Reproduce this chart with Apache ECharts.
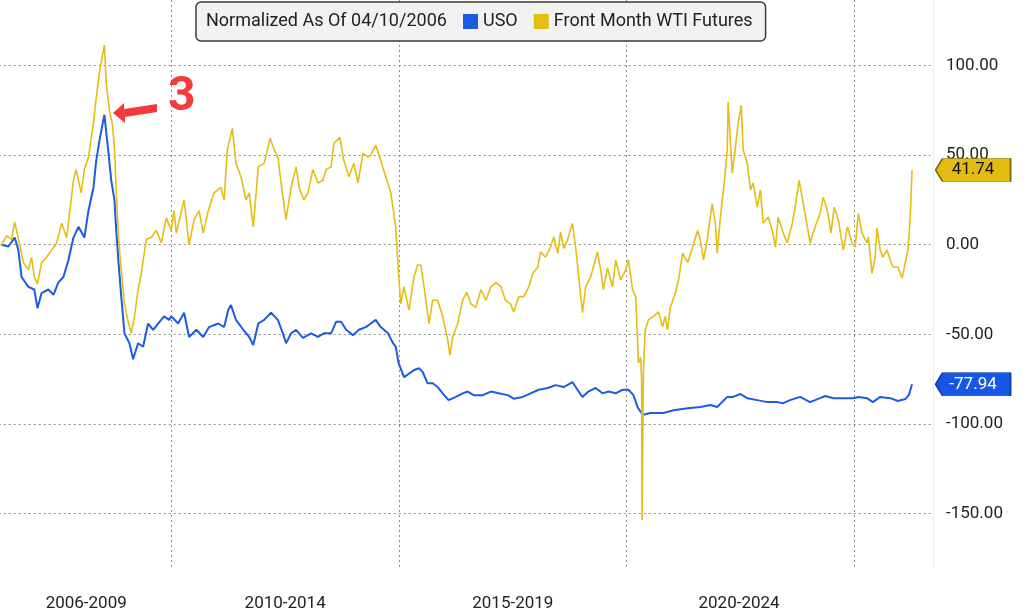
<!DOCTYPE html>
<html>
<head>
<meta charset="utf-8">
<title>USO vs Front Month WTI Futures</title>
<script src="https://cdn.jsdelivr.net/npm/echarts@6/dist/echarts.min.js"></script>
<style>
  html, body { margin: 0; padding: 0; background: #fff; }
  #chart { width: 1028px; height: 615px; }
</style>
</head>
<body>
<div id="chart"></div>
<script>
// normalized % change since 04/10/2006 (x in decimal years)
const wtiYears = [
  2006.27,2006.38,2006.49,2006.56,2006.66,2006.75,2006.86,2006.93,2006.99,2007.06,
  2007.15,2007.26,2007.37,2007.48,2007.59,2007.70,2007.85,2007.91,2008.02,2008.09,
  2008.18,2008.29,2008.35,2008.42,2008.46,2008.53,2008.57,2008.64,2008.70,2008.75,
  2008.79,2008.84,2008.90,2008.97,2009.06,2009.12,2009.19,2009.27,2009.34,2009.45,
  2009.56,2009.67,2009.78,2009.89,2010.00,2010.06,2010.11,2010.28,2010.39,2010.50,
  2010.61,2010.70,2010.81,2010.94,2011.09,2011.16,2011.23,2011.34,2011.42,2011.53,
  2011.64,2011.71,2011.80,2011.91,2012.04,2012.17,2012.26,2012.34,2012.41,2012.52,
  2012.63,2012.74,2012.81,2012.91,2013.00,2013.11,2013.22,2013.33,2013.40,2013.51,
  2013.57,2013.70,2013.79,2013.90,2014.01,2014.10,2014.21,2014.32,2014.38,2014.49,
  2014.60,2014.71,2014.82,2014.93,2014.99,2015.04,2015.11,2015.22,2015.33,2015.41,
  2015.48,2015.55,2015.66,2015.74,2015.85,2015.96,2016.07,2016.12,2016.18,2016.29,
  2016.40,2016.49,2016.58,2016.69,2016.80,2016.91,2017.02,2017.13,2017.24,2017.34,
  2017.45,2017.52,2017.63,2017.74,2017.85,2017.94,2018.05,2018.11,2018.22,2018.33,
  2018.40,2018.49,2018.55,2018.62,2018.70,2018.81,2018.88,2018.95,2019.03,2019.10,
  2019.21,2019.27,2019.36,2019.43,2019.49,2019.58,2019.69,2019.76,2019.87,2019.98,
  2020.04,2020.13,2020.20,2020.24,2020.26,2020.31,2020.33,2020.34,2020.37,2020.41,
  2020.48,2020.59,2020.70,2020.79,2020.85,2020.90,2020.96,2021.07,2021.14,2021.23,
  2021.34,2021.45,2021.56,2021.62,2021.69,2021.77,2021.88,2021.95,2021.99,2022.06,
  2022.15,2022.21,2022.23,2022.32,2022.39,2022.45,2022.52,2022.56,2022.65,2022.72,
  2022.78,2022.87,2022.94,2023.00,2023.11,2023.20,2023.27,2023.33,2023.44,2023.53,
  2023.64,2023.70,2023.79,2023.88,2023.97,2024.03,2024.14,2024.25,2024.32,2024.41,
  2024.49,2024.56,2024.65,2024.76,2024.85,2024.95,2025.02,2025.09,2025.17,2025.28,
  2025.31,2025.39,2025.46,2025.50,2025.57,2025.63,2025.72,2025.79,2025.85,2025.96,
  2026.05,2026.12,2026.18,2026.23,2026.27
];
const wtiValues = [
  0,5,3,12.6,1,-10,-14,-7,-18,-22,
  -10,-7,-3,1,12,4,36,42,29,42,
  49,68,82,96,102,111.5,90,75,68,55,
  30,4,-14,-33,-44,-49.5,-40,-25,-16,3,
  4,8,1,15,8,19,6.5,25,0,14,
  19,6.5,19,29,32,25,53,65,45.6,38,
  25,29,10,43.5,45.6,59.5,53,49,34.5,14,
  32,43.5,32,25,29,42,34.5,36,42,43.5,
  56.6,60,47,38,45.6,34.5,51,49,50,55.6,
  47,38,29,10,-16,-33,-23.5,-36.5,-18,-11.3,
  -11.3,-23.5,-44,-31,-31,-40,-53,-61.6,-51.5,-44,
  -31,-26.5,-33,-35,-25,-31,-23.5,-21,-23.5,-31,
  -33,-37.5,-29,-29,-23.5,-16,-12.4,-4,-7,-1.3,
  4.3,-4.7,7,-2,2.6,12,-1.3,-18,-38,-23.5,
  -18,-12.4,-4,-14,-25,-13,-23.5,-8.5,-19.7,-14,
  -8.5,-25,-29,-53,-66,-63,-76,-153.8,-70,-47.5,
  -42,-40,-37.5,-46,-40,-47.5,-35,-27,-19.7,-4.7,
  -10,-1.3,8,2.6,-8.5,2.6,23,12,-4.7,15.5,
  36,53,79.7,40,54.6,68,78,53,45.6,30.6,
  34.5,21,30.6,12,15.5,8,-1.3,15.5,6.5,1,
  12,21,36,23,10,1,10,17.5,26.6,19,
  6.5,21,14,-3,10,1,-1.3,17.5,6.5,1,
  4.3,-16,-7,9.3,-3,-7,-3,-8.5,-12.4,-12.4,
  -18.6,-10,-3,15.5,41.74
];
const usoYears = [
  2006.27,2006.42,2006.56,2006.64,2006.71,2006.86,2006.99,2007.06,2007.15,2007.30,
  2007.41,2007.52,2007.63,2007.74,2007.85,2007.96,2008.09,2008.18,2008.29,2008.35,
  2008.42,2008.51,2008.53,2008.62,2008.68,2008.75,2008.79,2008.84,2008.90,2008.97,
  2009.08,2009.16,2009.27,2009.38,2009.49,2009.60,2009.71,2009.84,2009.95,2010.00,
  2010.15,2010.28,2010.39,2010.55,2010.70,2010.83,2011.03,2011.16,2011.25,2011.31,
  2011.42,2011.58,2011.71,2011.80,2011.91,2012.04,2012.19,2012.34,2012.45,2012.52,
  2012.63,2012.74,2012.89,2013.07,2013.22,2013.35,2013.51,2013.62,2013.73,2013.84,
  2013.99,2014.12,2014.27,2014.38,2014.49,2014.60,2014.76,2014.87,2014.93,2014.99,
  2015.11,2015.22,2015.33,2015.44,2015.52,2015.63,2015.74,2015.85,2015.96,2016.09,
  2016.25,2016.40,2016.51,2016.64,2016.84,2017.02,2017.19,2017.39,2017.52,2017.72,
  2017.89,2018.07,2018.27,2018.44,2018.62,2018.81,2018.92,2019.03,2019.16,2019.32,
  2019.47,2019.60,2019.76,2019.91,2020.04,2020.15,2020.24,2020.31,2020.37,2020.52,
  2020.81,2021.03,2021.34,2021.62,2021.84,2021.99,2022.21,2022.34,2022.50,2022.65,
  2022.87,2023.09,2023.31,2023.44,2023.59,2023.81,2024.03,2024.25,2024.36,2024.54,
  2024.76,2024.98,2025.09,2025.28,2025.41,2025.57,2025.79,2025.96,2026.12,2026.20,
  2026.27
];
const usoValues = [
  0,-1,4,-3,-18,-23.5,-25,-35.5,-27,-25,
  -28,-21,-18,-8.5,4,10,4,19,32,47,
  58,70,72.5,51,36,25,8,-10,-29,-49.5,
  -55,-64,-55,-57,-44,-47.5,-44,-40,-42,-40,
  -44,-38,-51.5,-47.5,-51.5,-46,-44,-46,-36.5,-33.7,
  -42,-47.5,-51.5,-56,-44,-42,-38,-42,-49.5,-55,
  -49.5,-47.5,-52,-49.5,-51.5,-49.5,-49.5,-43,-43,-47.5,
  -50.5,-47.5,-46,-44,-42,-46,-49.5,-55,-57,-66,
  -74,-72,-70,-69,-71,-77.4,-77.4,-79.5,-83,-86.8,
  -85,-83,-82,-84,-84,-82,-83,-84,-86,-85,
  -83,-81,-80,-78.4,-79.5,-76.7,-81,-85,-82,-80,
  -83,-82,-83,-81,-81,-84,-90.6,-93.4,-95,-94,
  -94,-92.4,-91.3,-90.6,-89.5,-90.6,-85,-85,-83.4,-85.7,
  -86.8,-87.9,-87.9,-88.5,-86.8,-85,-87.9,-85.7,-84.5,-85.7,
  -85.7,-85.7,-85,-85.7,-87.9,-85,-85.7,-87.3,-86.2,-84,
  -77.94
];

const periodLabels = ['2006-2009', '2010-2014', '2015-2019', '2020-2024'];
const periodCenters = [2008.13, 2012.5, 2017.5, 2022.47];
const yTicks = [-150, -100, -50, 0, 50, 100];
const noteText = 'Normalized As Of 04/10/2006';

const BLUE = '#1a5ce2';
const GOLD = '#e6bd14';
const FONT = 'Roboto';
const gridDots = {type: [2, 3], color: '#8c8c8c', width: 1};
const tagPath = 'path://M0,11.5L7,0L75,0L75,23L7,23Z';

const pairs = (xs, ys) => xs.map((x, i) => [x, ys[i]]);
const lastTag = (xs, ys, fill, edge, textColor) => ({
  symbol: tagPath,
  symbolSize: [75, 23],
  symbolOffset: [61, 0],
  silent: true,
  itemStyle: {color: fill, borderColor: edge, borderWidth: 1},
  label: {
    show: true, position: 'inside', color: textColor,
    fontFamily: FONT, fontSize: 17,
    formatter: p => p.value.toFixed(2)
  },
  data: [{coord: [xs[xs.length - 1], ys[ys.length - 1]], value: ys[ys.length - 1]}]
});

const chart = echarts.init(document.getElementById('chart'), null, {renderer: 'canvas'});
chart.setOption({
  animation: false,
  backgroundColor: '#ffffff',
  title: {
    text: noteText, left: 206, top: 11, padding: 0,
    textStyle: {fontFamily: FONT, fontSize: 18, fontWeight: 'normal', color: '#222', lineHeight: 21}
  },
  legend: {
    data: ['USO', 'Front Month WTI Futures'],
    left: 196, top: 2,
    padding: [9, 13, 9, 267],
    icon: 'rect', itemWidth: 15, itemHeight: 15, itemGap: 16,
    selectedMode: false,
    backgroundColor: '#f2f2f2', borderColor: '#3a3a3a', borderWidth: 1.5, borderRadius: 5,
    textStyle: {fontFamily: FONT, fontSize: 18, color: '#222', lineHeight: 21}
  },
  grid: {left: -56.3, right: 95, top: 0, bottom: 48, outerBoundsMode: 'none'},
  xAxis: {
    type: 'value', min: 2005, max: 2026.73, interval: 5,
    axisLine: {show: false},
    axisTick: {show: false},
    splitLine: {show: true, showMinLine: false, showMaxLine: false, lineStyle: gridDots},
    axisLabel: {
      customValues: periodCenters,
      margin: 28, fontFamily: FONT, fontSize: 17, color: '#222',
      formatter: v => {
        let k = 0;
        periodCenters.forEach((c, i) => { if (Math.abs(c - v) < Math.abs(periodCenters[k] - v)) k = i; });
        return periodLabels[k];
      }
    }
  },
  yAxis: {
    type: 'value', position: 'right', min: -180, max: 136.7,
    axisLine: {show: true, lineStyle: {color: '#f2eaea', width: 1}},
    axisTick: {show: false},
    splitLine: {show: true, showMinLine: false, showMaxLine: false, lineStyle: gridDots},
    axisLabel: {
      customValues: yTicks,
      margin: 13, fontFamily: FONT, fontSize: 17, color: '#222',
      formatter: v => v.toFixed(2)
    }
  },
  series: [
    {
      name: 'USO', type: 'line', data: pairs(usoYears, usoValues),
      showSymbol: false, symbol: 'none',
      lineStyle: {width: 2, color: BLUE}, itemStyle: {color: BLUE},
      markPoint: lastTag(usoYears, usoValues, '#1657e6', '#0b3a9e', '#ffffff')
    },
    {
      name: 'Front Month WTI Futures', type: 'line', data: pairs(wtiYears, wtiValues),
      showSymbol: false, symbol: 'none',
      lineStyle: {width: 1.6, color: GOLD}, itemStyle: {color: GOLD},
      markPoint: lastTag(wtiYears, wtiValues, '#e3bc12', '#7d6600', '#111111')
    }
  ],
  graphic: [
    {
      type: 'text', left: 168, top: 74, z: 50,
      style: {text: '3', fontFamily: FONT, fontSize: 48, fontWeight: 'bold', fill: '#f23b3b'}
    },
    {
      type: 'polygon', z: 50,
      shape: {points: [[157, 104], [124, 109], [124, 103], [113, 113], [125, 123], [125, 117], [157, 112]]},
      style: {fill: '#f23b3b'}
    }
  ]
});
</script>
</body>
</html>
